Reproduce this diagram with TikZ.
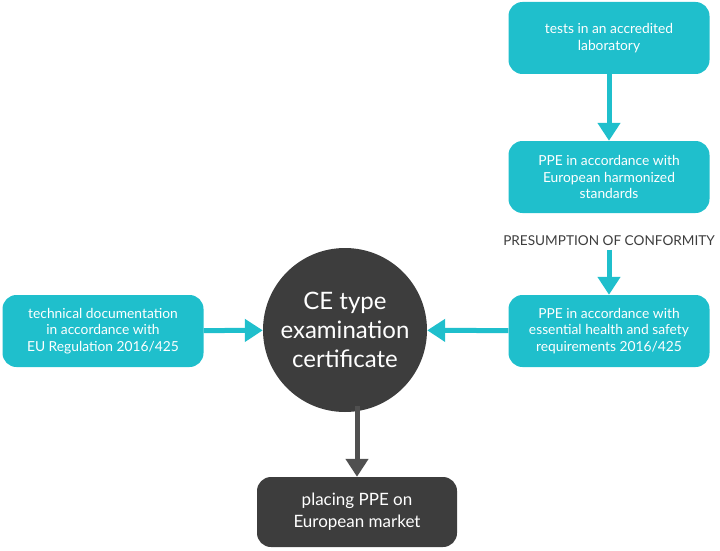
\documentclass[tikz,border=0pt]{standalone}
\usepackage{fontspec}
\setmainfont{Lato}
\usetikzlibrary{arrows.meta}
\definecolor{teal1}{HTML}{1FBFCC}
\definecolor{dark1}{HTML}{3D3D3D}

\begin{document}
\begin{tikzpicture}[x=1pt,y=-1pt]
\useasboundingbox (0,0) rectangle (720,551);
\begin{scope}[every node/.style={rounded corners=14pt,fill=teal1,text=white,minimum width=201pt,minimum height=72pt,align=center,font=\fontsize{13.8}{16.5}\selectfont}]
    \node (tests) at (609,38) {tests in an accredited\\laboratory};
    \node (harm) at (609,177) {PPE in accordance with\\European harmonized\\standards};
    \node (ess) at (609,331) {PPE in accordance with\\essential health and safety\\requirements 2016/425};
    \node (tech) at (103,331) {technical documentation\\in accordance with\\EU Regulation 2016/425};
\end{scope}
\node[circle,fill=dark1,text=white,minimum size=164pt,align=center,font=\fontsize{24}{29}\selectfont] (cert) at (345,330) {CE type\\examination\\certificate};
\node[rounded corners=14pt,fill=dark1,text=white,minimum width=200pt,minimum height=70pt,align=center,font=\fontsize{17}{22}\selectfont] (market) at (357,512) {placing PPE on\\European market};
\node[text=dark1,font=\fontsize{13.6}{15}\selectfont] (pres) at (609,241) {PRESUMPTION OF CONFORMITY};

\begin{scope}[every path/.style={line width=5pt,-{Triangle[width=22pt,length=18pt]}}]
    \draw[teal1] (tests) -- (harm);
    \draw[teal1] (pres) -- (ess);
    \draw[teal1] (ess) -- (cert);
    \draw[teal1] (tech) -- (cert);
    \draw[dark1!90] (cert.south -| market.north) ++(0,-6) -- (market);
\end{scope}
\end{tikzpicture}
\end{document}
